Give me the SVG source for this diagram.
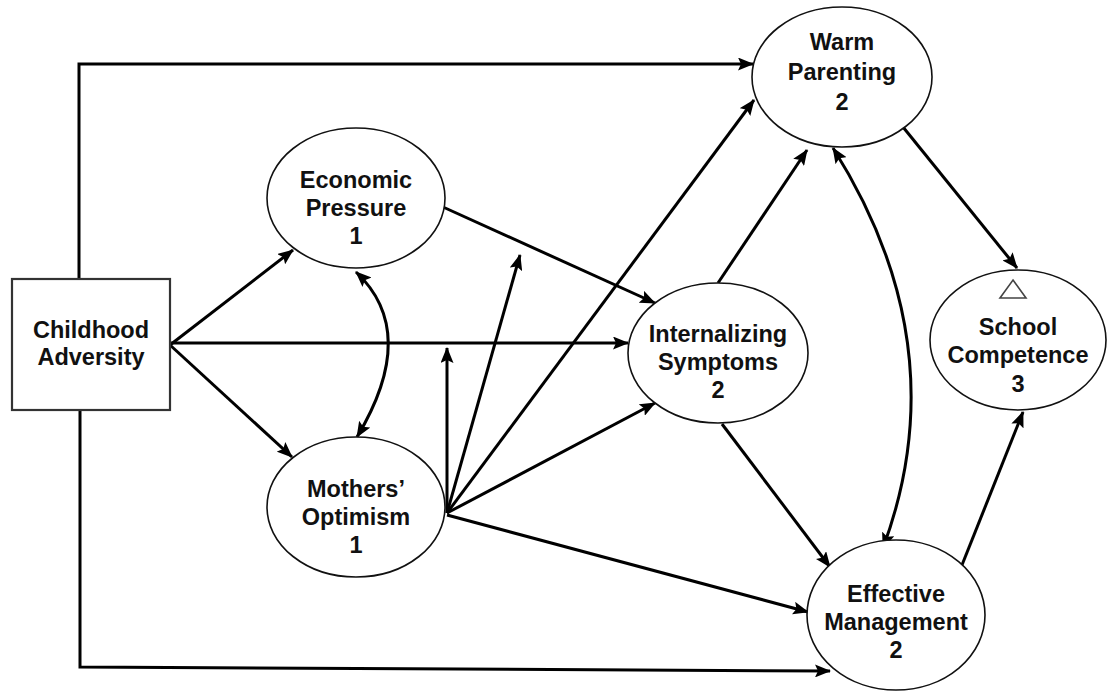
<svg xmlns="http://www.w3.org/2000/svg" width="1108" height="692" viewBox="0 0 1108 692">
<style>
.node{fill:#fff;stroke:#111;stroke-width:1.6}
.box{fill:#fff;stroke:#333;stroke-width:2.2}
.lbl{font-family:"Liberation Sans",Arial,sans-serif;font-weight:bold;font-size:23.5px;fill:#111;text-anchor:middle}
.c{fill:none;stroke:#000;stroke-width:3}
.a{marker-end:url(#ah)}
.d{marker-start:url(#ah);marker-end:url(#ah)}
</style>
<defs>
<marker id="ah" markerUnits="userSpaceOnUse" markerWidth="16" markerHeight="13" refX="15" refY="6.5" orient="auto-start-reverse" viewBox="0 0 16 13">
<path d="M0,0 L16,6.5 L0,13 L3,6.5 z" fill="#000"/>
</marker>
</defs>
<rect width="1108" height="692" fill="#fff"/>
<g id="connectors">
<path class="c a" d="M79,279 V64 H753"/>
<path class="c a" d="M80,410 V667 L830,671"/>
<path class="c a" d="M170,345 L293,250"/>
<path class="c a" d="M170,343 H628"/>
<path class="c a" d="M170,345 L292,457"/>
<path class="c d" d="M356,272 Q420,332 357,437"/>
<path class="c a" d="M443,207 L655,303"/>
<path class="c a" d="M447,513 V348"/>
<path class="c a" d="M447,513 L520,255"/>
<path class="c a" d="M447,513 L754,100"/>
<path class="c a" d="M447,513 L655,403"/>
<path class="c a" d="M447,515 L808,612"/>
<path class="c a" d="M718,283 L807,150"/>
<path class="c a" d="M722,424 L830,567"/>
<path class="c d" d="M833,148 Q958,346 883,548"/>
<path class="c a" d="M903,127 L1017,268"/>
<path class="c a" d="M960,570 L1023,412"/>
</g>
<g id="childhood-adversity">
<rect class="box" x="12" y="279" width="158" height="131"/>
<text class="lbl" x="91" y="338">Childhood</text>
<text class="lbl" x="91" y="365">Adversity</text>
</g>
<g id="economic-pressure">
<ellipse class="node" cx="356" cy="198" rx="89" ry="70"/>
<text class="lbl" x="356" y="188">Economic</text>
<text class="lbl" x="356" y="216">Pressure</text>
<text class="lbl" x="356" y="244">1</text>
</g>
<g id="mothers-optimism">
<ellipse class="node" cx="356" cy="507" rx="89" ry="70"/>
<text class="lbl" x="356" y="497">Mothers’</text>
<text class="lbl" x="356" y="525">Optimism</text>
<text class="lbl" x="356" y="553">1</text>
</g>
<g id="internalizing-symptoms">
<ellipse class="node" cx="718" cy="353" rx="90" ry="70"/>
<text class="lbl" x="718" y="342">Internalizing</text>
<text class="lbl" x="718" y="370">Symptoms</text>
<text class="lbl" x="718" y="398">2</text>
</g>
<g id="warm-parenting">
<ellipse class="node" cx="842" cy="77" rx="90" ry="70"/>
<text class="lbl" x="842" y="50">Warm</text>
<text class="lbl" x="842" y="80">Parenting</text>
<text class="lbl" x="842" y="110">2</text>
</g>
<g id="effective-management">
<ellipse class="node" cx="896" cy="615" rx="89" ry="75"/>
<text class="lbl" x="896" y="602">Effective</text>
<text class="lbl" x="896" y="630">Management</text>
<text class="lbl" x="896" y="658">2</text>
</g>
<g id="school-competence">
<ellipse class="node" cx="1018" cy="340" rx="88" ry="70"/>
<polygon points="1013,280 1026,298 1000,298" fill="#fff" stroke="#444" stroke-width="1.6"/>
<text class="lbl" x="1018" y="335">School</text>
<text class="lbl" x="1018" y="363">Competence</text>
<text class="lbl" x="1018" y="392">3</text>
</g>
</svg>
